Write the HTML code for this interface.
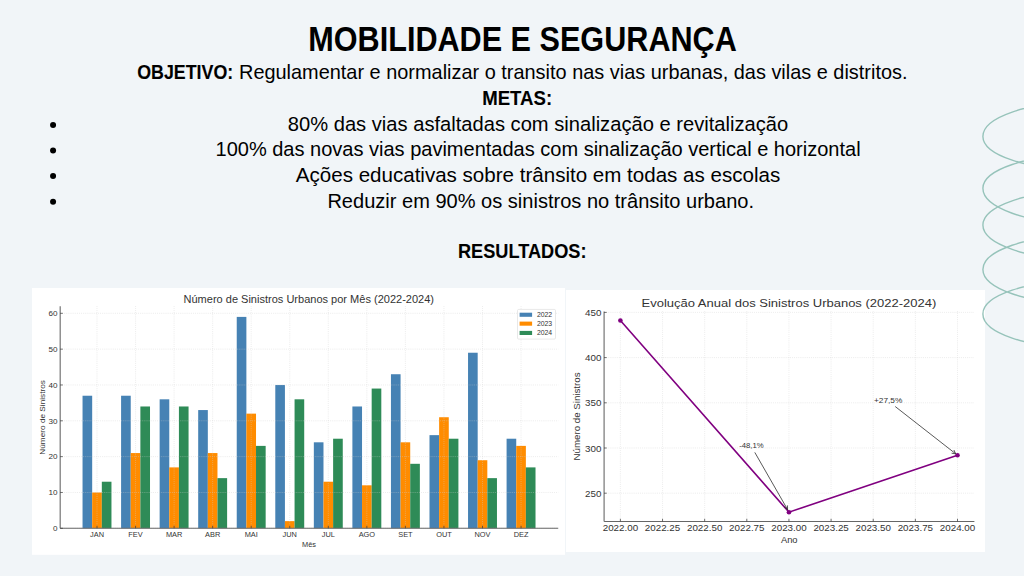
<!DOCTYPE html>
<html><head><meta charset="utf-8"><title>Mobilidade e Segurança</title>
<style>
html,body{margin:0;padding:0;}
body{width:1024px;height:576px;overflow:hidden;background:#F1F5F8;font-family:"Liberation Sans", sans-serif;}
svg{display:block;font-family:"Liberation Sans", sans-serif;}
</style></head><body>
<svg width="1024" height="576" viewBox="0 0 1024 576">
<rect width="1024" height="576" fill="#F1F5F8"/>
<text x="308.30" y="51.00" font-size="35" text-anchor="start" font-weight="bold" fill="#000" textLength="428.50" lengthAdjust="spacingAndGlyphs">MOBILIDADE E SEGURANÇA</text>
<text x="137.20" y="79.30" font-size="20.3" text-anchor="start" font-weight="bold" fill="#000" textLength="96.00" lengthAdjust="spacingAndGlyphs" stroke="#000" stroke-width="0.1">OBJETIVO:</text>
<text x="239.00" y="79.30" font-size="20.3" text-anchor="start" font-weight="normal" fill="#000" textLength="668.50" lengthAdjust="spacingAndGlyphs">Regulamentar e normalizar o transito nas vias urbanas, das vilas e distritos.</text>
<text x="482.20" y="105.00" font-size="20.3" text-anchor="start" font-weight="bold" fill="#000" textLength="70.00" lengthAdjust="spacingAndGlyphs" stroke="#000" stroke-width="0.1">METAS:</text>
<text x="287.80" y="130.70" font-size="20.5" text-anchor="start" font-weight="normal" fill="#000" textLength="500.40" lengthAdjust="spacingAndGlyphs">80% das vias asfaltadas com sinalização e revitalização</text>
<circle cx="53.06" cy="124.90" r="3" fill="#000"/>
<text x="215.50" y="156.30" font-size="20.5" text-anchor="start" font-weight="normal" fill="#000" textLength="645.10" lengthAdjust="spacingAndGlyphs">100% das novas vias pavimentadas com sinalização vertical e horizontal</text>
<circle cx="53.06" cy="150.50" r="3" fill="#000"/>
<text x="295.80" y="181.90" font-size="20.5" text-anchor="start" font-weight="normal" fill="#000" textLength="484.40" lengthAdjust="spacingAndGlyphs">Ações educativas sobre trânsito em todas as escolas</text>
<circle cx="53.06" cy="176.10" r="3" fill="#000"/>
<text x="327.40" y="207.50" font-size="20.5" text-anchor="start" font-weight="normal" fill="#000" textLength="426.60" lengthAdjust="spacingAndGlyphs">Reduzir em 90% os sinistros no trânsito urbano.</text>
<circle cx="53.06" cy="201.70" r="3" fill="#000"/>
<text x="458.00" y="258.40" font-size="19.8" text-anchor="start" font-weight="bold" fill="#000" textLength="128.50" lengthAdjust="spacingAndGlyphs" stroke="#000" stroke-width="0.1">RESULTADOS:</text>
<rect x="32" y="288" width="533" height="266.8" fill="#fff"/>
<rect x="82.54" y="395.73" width="9.64" height="132.57" fill="#4682B4"/>
<rect x="92.18" y="492.47" width="9.64" height="35.83" fill="#FF8C00"/>
<rect x="101.82" y="481.72" width="9.64" height="46.58" fill="#2E8B57"/>
<rect x="121.09" y="395.73" width="9.64" height="132.57" fill="#4682B4"/>
<rect x="130.73" y="453.06" width="9.64" height="75.24" fill="#FF8C00"/>
<rect x="140.37" y="406.48" width="9.64" height="121.82" fill="#2E8B57"/>
<rect x="159.64" y="399.31" width="9.64" height="128.99" fill="#4682B4"/>
<rect x="169.28" y="467.39" width="9.64" height="60.91" fill="#FF8C00"/>
<rect x="178.92" y="406.48" width="9.64" height="121.82" fill="#2E8B57"/>
<rect x="198.19" y="410.06" width="9.64" height="118.24" fill="#4682B4"/>
<rect x="207.83" y="453.06" width="9.64" height="75.24" fill="#FF8C00"/>
<rect x="217.47" y="478.14" width="9.64" height="50.16" fill="#2E8B57"/>
<rect x="236.74" y="316.90" width="9.64" height="211.40" fill="#4682B4"/>
<rect x="246.38" y="413.64" width="9.64" height="114.66" fill="#FF8C00"/>
<rect x="256.02" y="445.89" width="9.64" height="82.41" fill="#2E8B57"/>
<rect x="275.29" y="384.98" width="9.64" height="143.32" fill="#4682B4"/>
<rect x="284.93" y="521.13" width="9.64" height="7.17" fill="#FF8C00"/>
<rect x="294.57" y="399.31" width="9.64" height="128.99" fill="#2E8B57"/>
<rect x="313.84" y="442.31" width="9.64" height="85.99" fill="#4682B4"/>
<rect x="323.48" y="481.72" width="9.64" height="46.58" fill="#FF8C00"/>
<rect x="333.12" y="438.72" width="9.64" height="89.58" fill="#2E8B57"/>
<rect x="352.39" y="406.48" width="9.64" height="121.82" fill="#4682B4"/>
<rect x="362.03" y="485.30" width="9.64" height="43.00" fill="#FF8C00"/>
<rect x="371.67" y="388.56" width="9.64" height="139.74" fill="#2E8B57"/>
<rect x="390.94" y="374.23" width="9.64" height="154.07" fill="#4682B4"/>
<rect x="400.58" y="442.31" width="9.64" height="85.99" fill="#FF8C00"/>
<rect x="410.22" y="463.81" width="9.64" height="64.49" fill="#2E8B57"/>
<rect x="429.49" y="435.14" width="9.64" height="93.16" fill="#4682B4"/>
<rect x="439.13" y="417.23" width="9.64" height="111.07" fill="#FF8C00"/>
<rect x="448.77" y="438.72" width="9.64" height="89.58" fill="#2E8B57"/>
<rect x="468.04" y="352.73" width="9.64" height="175.57" fill="#4682B4"/>
<rect x="477.68" y="460.22" width="9.64" height="68.08" fill="#FF8C00"/>
<rect x="487.32" y="478.14" width="9.64" height="50.16" fill="#2E8B57"/>
<rect x="506.59" y="438.72" width="9.64" height="89.58" fill="#4682B4"/>
<rect x="516.23" y="445.89" width="9.64" height="82.41" fill="#FF8C00"/>
<rect x="525.87" y="467.39" width="9.64" height="60.91" fill="#2E8B57"/>
<path d="M97.00,306.3V528.3M135.55,306.3V528.3M174.10,306.3V528.3M212.65,306.3V528.3M251.20,306.3V528.3M289.75,306.3V528.3M328.30,306.3V528.3M366.85,306.3V528.3M405.40,306.3V528.3M443.95,306.3V528.3M482.50,306.3V528.3M521.05,306.3V528.3M60.2,528.30H558.2M60.2,492.47H558.2M60.2,456.64H558.2M60.2,420.81H558.2M60.2,384.98H558.2M60.2,349.15H558.2M60.2,313.32H558.2" stroke="#cfcfcf" stroke-width="0.6" stroke-dasharray="0.7,1.2" fill="none" opacity="0.85"/>
<path d="M60.2,306.3V528.3" stroke="#7a7a7a" stroke-width="1.25" fill="none"/>
<path d="M60.2,528.3H558.2" stroke="#666" stroke-width="1.05" fill="none"/>
<path d="M97.00,528.3v-2.6M135.55,528.3v-2.6M174.10,528.3v-2.6M212.65,528.3v-2.6M251.20,528.3v-2.6M289.75,528.3v-2.6M328.30,528.3v-2.6M366.85,528.3v-2.6M405.40,528.3v-2.6M443.95,528.3v-2.6M482.50,528.3v-2.6M521.05,528.3v-2.6M60.2,528.30h2.6M60.2,492.47h2.6M60.2,456.64h2.6M60.2,420.81h2.6M60.2,384.98h2.6M60.2,349.15h2.6M60.2,313.32h2.6" stroke="#333" stroke-width="0.7" fill="none"/>
<text x="57.50" y="531.15" font-size="8.1" text-anchor="end" font-weight="normal" fill="#333">0</text>
<text x="57.50" y="495.32" font-size="8.1" text-anchor="end" font-weight="normal" fill="#333">10</text>
<text x="57.50" y="459.49" font-size="8.1" text-anchor="end" font-weight="normal" fill="#333">20</text>
<text x="57.50" y="423.66" font-size="8.1" text-anchor="end" font-weight="normal" fill="#333">30</text>
<text x="57.50" y="387.83" font-size="8.1" text-anchor="end" font-weight="normal" fill="#333">40</text>
<text x="57.50" y="352.00" font-size="8.1" text-anchor="end" font-weight="normal" fill="#333">50</text>
<text x="57.50" y="316.17" font-size="8.1" text-anchor="end" font-weight="normal" fill="#333">60</text>
<text x="97.00" y="536.80" font-size="7.4" text-anchor="middle" font-weight="normal" fill="#333">JAN</text>
<text x="135.55" y="536.80" font-size="7.4" text-anchor="middle" font-weight="normal" fill="#333">FEV</text>
<text x="174.10" y="536.80" font-size="7.4" text-anchor="middle" font-weight="normal" fill="#333">MAR</text>
<text x="212.65" y="536.80" font-size="7.4" text-anchor="middle" font-weight="normal" fill="#333">ABR</text>
<text x="251.20" y="536.80" font-size="7.4" text-anchor="middle" font-weight="normal" fill="#333">MAI</text>
<text x="289.75" y="536.80" font-size="7.4" text-anchor="middle" font-weight="normal" fill="#333">JUN</text>
<text x="328.30" y="536.80" font-size="7.4" text-anchor="middle" font-weight="normal" fill="#333">JUL</text>
<text x="366.85" y="536.80" font-size="7.4" text-anchor="middle" font-weight="normal" fill="#333">AGO</text>
<text x="405.40" y="536.80" font-size="7.4" text-anchor="middle" font-weight="normal" fill="#333">SET</text>
<text x="443.95" y="536.80" font-size="7.4" text-anchor="middle" font-weight="normal" fill="#333">OUT</text>
<text x="482.50" y="536.80" font-size="7.4" text-anchor="middle" font-weight="normal" fill="#333">NOV</text>
<text x="521.05" y="536.80" font-size="7.4" text-anchor="middle" font-weight="normal" fill="#333">DEZ</text>
<text x="309.00" y="546.50" font-size="7.4" text-anchor="middle" font-weight="normal" fill="#333">Mês</text>
<text x="0" y="0" font-size="7.6" fill="#333" text-anchor="middle" transform="translate(45.2,417.4) rotate(-90)" textLength="74.6" lengthAdjust="spacingAndGlyphs">Número de Sinistros</text>
<text x="183.50" y="303.20" font-size="10.6" text-anchor="start" font-weight="normal" fill="#333" textLength="250.50" lengthAdjust="spacingAndGlyphs">Número de Sinistros Urbanos por Mês (2022-2024)</text>
<rect x="517.5" y="309.4" width="38" height="29.7" rx="1.2" fill="#fff" fill-opacity="0.8" stroke="#d8d8d8" stroke-width="0.6"/>
<rect x="519.6" y="312.7" width="12.5" height="4.1" fill="#4682B4"/>
<text x="536.90" y="317.00" font-size="7.0" text-anchor="start" font-weight="normal" fill="#333" textLength="15.30" lengthAdjust="spacingAndGlyphs">2022</text>
<rect x="519.6" y="321.6" width="12.5" height="4.1" fill="#FF8C00"/>
<text x="536.90" y="325.90" font-size="7.0" text-anchor="start" font-weight="normal" fill="#333" textLength="15.30" lengthAdjust="spacingAndGlyphs">2023</text>
<rect x="519.6" y="330.9" width="12.5" height="4.1" fill="#2E8B57"/>
<text x="536.90" y="335.20" font-size="7.0" text-anchor="start" font-weight="normal" fill="#333" textLength="15.30" lengthAdjust="spacingAndGlyphs">2024</text>
<rect x="566" y="290" width="419" height="262" fill="#fff"/>
<path d="M620.40,311.4V521.4M662.54,311.4V521.4M704.67,311.4V521.4M746.81,311.4V521.4M788.95,311.4V521.4M831.09,311.4V521.4M873.23,311.4V521.4M915.36,311.4V521.4M957.50,311.4V521.4M604.1,493.20H974.4M604.1,448.00H974.4M604.1,402.80H974.4M604.1,357.60H974.4M604.1,312.40H974.4" stroke="#cfcfcf" stroke-width="0.6" stroke-dasharray="0.7,1.2" fill="none" opacity="0.85"/>
<path d="M604.1,311.4V521.4" stroke="#7a7a7a" stroke-width="1.25" fill="none"/>
<path d="M604.1,521.4H974.4" stroke="#666" stroke-width="1.05" fill="none"/>
<path d="M620.40,521.4v-2.6M662.54,521.4v-2.6M704.67,521.4v-2.6M746.81,521.4v-2.6M788.95,521.4v-2.6M831.09,521.4v-2.6M873.23,521.4v-2.6M915.36,521.4v-2.6M957.50,521.4v-2.6M604.1,493.20h2.6M604.1,448.00h2.6M604.1,402.80h2.6M604.1,357.60h2.6M604.1,312.40h2.6" stroke="#333" stroke-width="0.7" fill="none"/>
<text x="601.40" y="496.70" font-size="9.8" text-anchor="end" font-weight="normal" fill="#333">250</text>
<text x="601.40" y="451.50" font-size="9.8" text-anchor="end" font-weight="normal" fill="#333">300</text>
<text x="601.40" y="406.30" font-size="9.8" text-anchor="end" font-weight="normal" fill="#333">350</text>
<text x="601.40" y="361.10" font-size="9.8" text-anchor="end" font-weight="normal" fill="#333">400</text>
<text x="601.40" y="315.90" font-size="9.8" text-anchor="end" font-weight="normal" fill="#333">450</text>
<text x="620.40" y="531.10" font-size="9.8" text-anchor="middle" font-weight="normal" fill="#333">2022.00</text>
<text x="662.54" y="531.10" font-size="9.8" text-anchor="middle" font-weight="normal" fill="#333">2022.25</text>
<text x="704.67" y="531.10" font-size="9.8" text-anchor="middle" font-weight="normal" fill="#333">2022.50</text>
<text x="746.81" y="531.10" font-size="9.8" text-anchor="middle" font-weight="normal" fill="#333">2022.75</text>
<text x="788.95" y="531.10" font-size="9.8" text-anchor="middle" font-weight="normal" fill="#333">2023.00</text>
<text x="831.09" y="531.10" font-size="9.8" text-anchor="middle" font-weight="normal" fill="#333">2023.25</text>
<text x="873.23" y="531.10" font-size="9.8" text-anchor="middle" font-weight="normal" fill="#333">2023.50</text>
<text x="915.36" y="531.10" font-size="9.8" text-anchor="middle" font-weight="normal" fill="#333">2023.75</text>
<text x="957.50" y="531.10" font-size="9.8" text-anchor="middle" font-weight="normal" fill="#333">2024.00</text>
<text x="789.25" y="542.50" font-size="9.4" text-anchor="middle" font-weight="normal" fill="#333">Ano</text>
<text x="0" y="0" font-size="9.6" fill="#333" text-anchor="middle" transform="translate(580.4,416.5) rotate(-90)" textLength="88" lengthAdjust="spacingAndGlyphs">Número de Sinistros</text>
<text x="641.50" y="306.90" font-size="11.2" text-anchor="start" font-weight="normal" fill="#333" textLength="294.80" lengthAdjust="spacingAndGlyphs">Evolução Anual dos Sinistros Urbanos (2022-2024)</text>
<path d="M620.40,320.54 L788.95,512.18 L957.50,455.23" stroke="#800080" stroke-width="1.6" fill="none"/>
<circle cx="620.40" cy="320.54" r="2.3" fill="#800080"/>
<circle cx="788.95" cy="512.18" r="2.3" fill="#800080"/>
<circle cx="957.50" cy="455.23" r="2.3" fill="#800080"/>
<text x="739.20" y="448.30" font-size="7.3" text-anchor="start" font-weight="normal" fill="#333" textLength="24.50" lengthAdjust="spacingAndGlyphs">-48,1%</text>
<text x="874.00" y="403.00" font-size="7.3" text-anchor="start" font-weight="normal" fill="#333" textLength="28.30" lengthAdjust="spacingAndGlyphs">+27,5%</text>
<path d="M754.8,452.4 L787.6,509.6" stroke="#222" stroke-width="0.75" fill="none"/>
<path d="M784.2,506.9 L787.6,509.6 L787.4,505.4" stroke="#222" stroke-width="0.75" fill="none"/>
<path d="M895.2,406.5 L955.7,453.8" stroke="#222" stroke-width="0.75" fill="none"/>
<path d="M951.6,453.2 L955.7,453.8 L953.9,450" stroke="#222" stroke-width="0.75" fill="none"/>
<path d="M1082.90,102.00 A100.0,34.40 0 0 0 982.9,136.40 A100.0,33.53 0 0 0 1082.90,169.93 M1082.90,154.64 A100.0,33.66 0 0 0 982.9,188.30 A100.0,35.27 0 0 0 1082.90,223.57 M1082.90,190.82 A100.0,34.28 0 0 0 982.9,225.10 A100.0,34.40 0 0 0 1082.90,259.50 M1082.90,235.25 A100.0,34.15 0 0 0 982.9,269.40 A100.0,34.40 0 0 0 1082.90,303.80 M1082.90,280.37 A100.0,33.53 0 0 0 982.9,313.90 A100.0,34.15 0 0 0 1082.90,348.05 " fill="none" stroke="#96C3BA" stroke-width="1.4"/>
</svg>
</body></html>
